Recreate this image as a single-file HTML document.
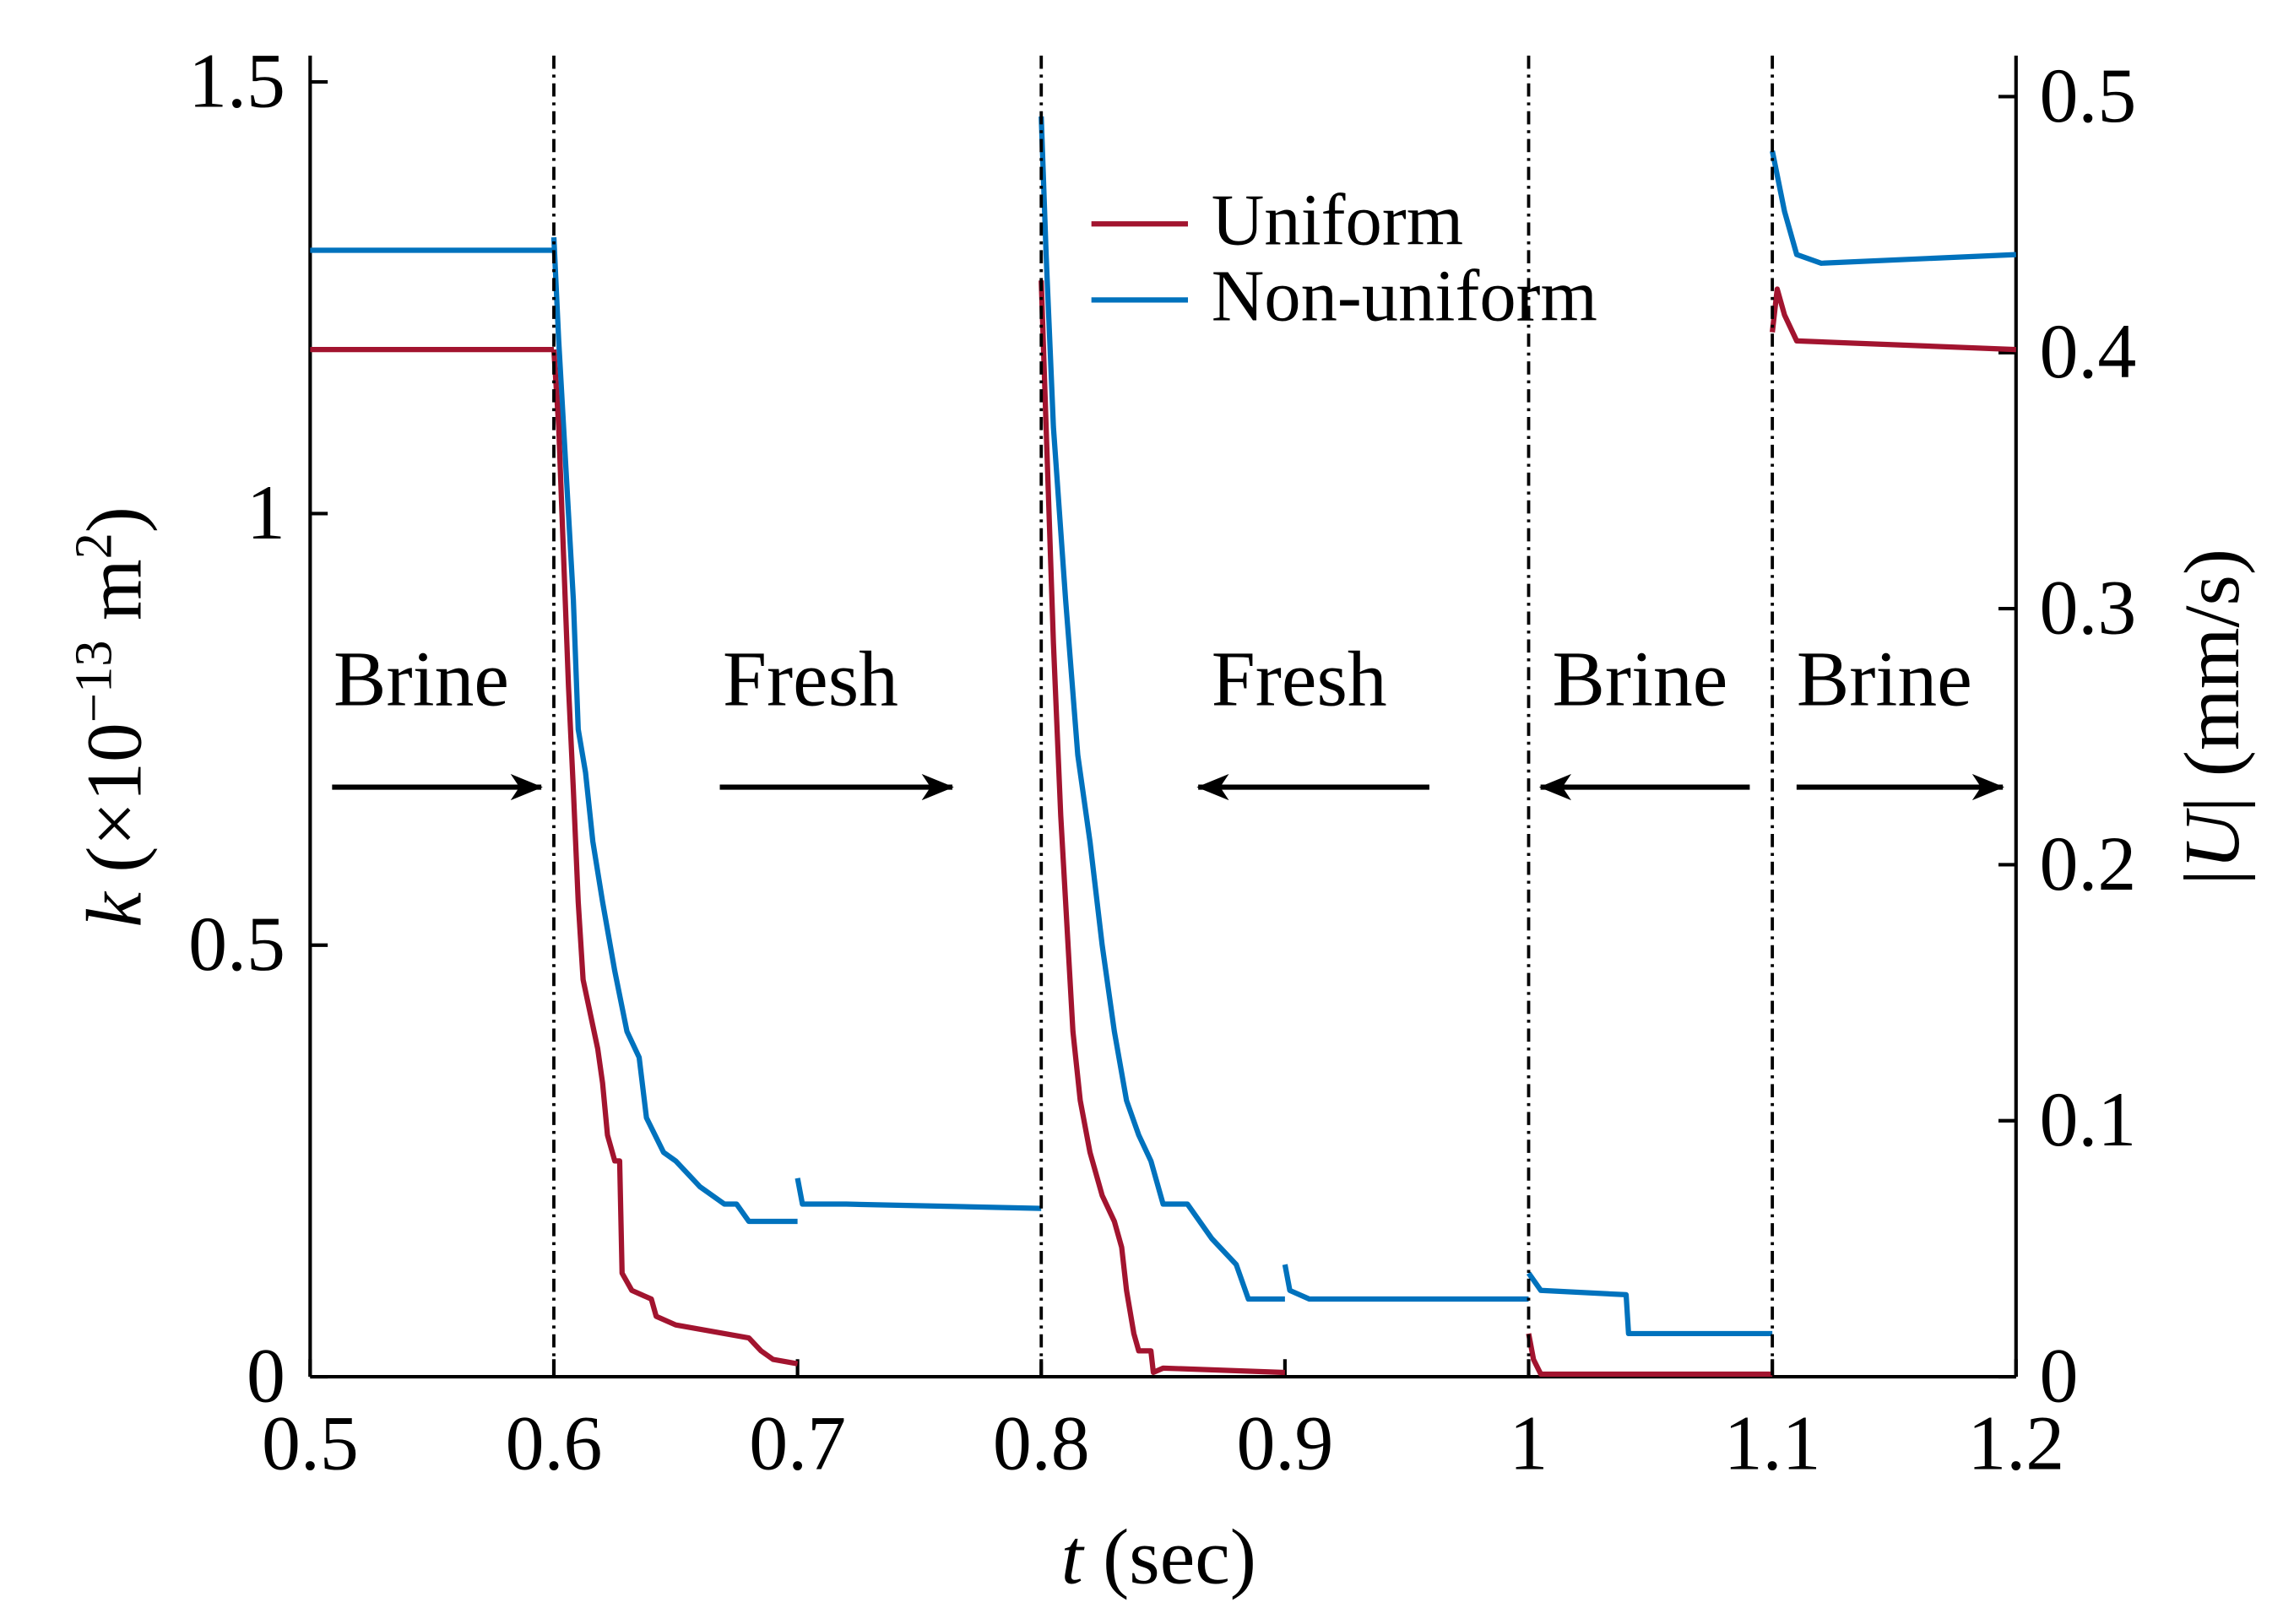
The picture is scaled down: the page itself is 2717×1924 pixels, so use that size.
<!DOCTYPE html>
<html><head><meta charset="utf-8"><style>
html,body{margin:0;padding:0;background:#fff;}
body{position:relative;width:2717px;height:1924px;overflow:hidden;}
svg{display:block;font-family:"Liberation Serif",serif;}
</style></head><body>
<svg id="chart" width="2717" height="1924" viewBox="0 0 1568 1110" preserveAspectRatio="none" xmlns="http://www.w3.org/2000/svg">
<g id="axes"></g>
<g id="marks"></g>
<g id="ann"></g>
</svg>
<script>
const xTicks=[0.5,0.6,0.7,0.8,0.9,1,1.1,1.2];
const xTickLabels=["0.5","0.6","0.7","0.8","0.9","1","1.1","1.2"];
const yTicks=[0,0.5,1,1.5];
const yTickLabels=["0","0.5","1","1.5"];
const y2Ticks=[0,0.1,0.2,0.3,0.4,0.5];
const y2TickLabels=["0","0.1","0.2","0.3","0.4","0.5"];
const switchTimes=[0.6,0.8,1.0,1.1];
const uniformSegs=[
 [[0.5,1.19],[0.6,1.19]],
 [[0.600,1.19],[0.602,1.10],[0.604,0.95],[0.606,0.80],[0.608,0.68],[0.610,0.55],[0.612,0.46],[0.615,0.42],[0.618,0.38],[0.620,0.34],[0.622,0.28],[0.625,0.25],[0.627,0.25],[0.628,0.12],[0.632,0.10],[0.640,0.09],[0.642,0.07],[0.650,0.06],[0.660,0.055],[0.670,0.05],[0.680,0.045],[0.685,0.03],[0.690,0.02],[0.700,0.015]],
 [[0.800,1.27],[0.802,1.10],[0.805,0.85],[0.808,0.65],[0.810,0.55],[0.813,0.40],[0.816,0.32],[0.820,0.26],[0.825,0.21],[0.830,0.18],[0.833,0.15],[0.835,0.10],[0.838,0.05],[0.840,0.03],[0.845,0.03],[0.846,0.005],[0.85,0.01],[0.9,0.005]],
 [[1.0,0.05],[1.002,0.02],[1.005,0.003],[1.1,0.003]],
 [[1.1,1.21],[1.102,1.26],[1.105,1.23],[1.11,1.20],[1.2,1.19]]
];
const nonUniformSegs=[
 [[0.5,1.305],[0.6,1.305]],
 [[0.600,1.32],[0.602,1.20],[0.605,1.05],[0.608,0.90],[0.610,0.75],[0.613,0.70],[0.616,0.62],[0.620,0.55],[0.625,0.47],[0.630,0.40],[0.635,0.37],[0.638,0.30],[0.645,0.26],[0.650,0.25],[0.660,0.22],[0.670,0.20],[0.675,0.20],[0.680,0.18],[0.700,0.18]],
 [[0.700,0.23],[0.702,0.20],[0.72,0.20],[0.8,0.195]],
 [[0.800,1.46],[0.802,1.30],[0.805,1.10],[0.810,0.90],[0.815,0.72],[0.820,0.62],[0.825,0.50],[0.830,0.40],[0.835,0.32],[0.840,0.28],[0.845,0.25],[0.850,0.20],[0.860,0.20],[0.870,0.16],[0.880,0.13],[0.885,0.09],[0.9,0.09]],
 [[0.9,0.13],[0.902,0.10],[0.91,0.09],[1.0,0.09]],
 [[1.0,0.12],[1.005,0.10],[1.04,0.095],[1.041,0.05],[1.1,0.05]],
 [[1.1,1.42],[1.105,1.35],[1.11,1.30],[1.12,1.29],[1.2,1.30]]
];
const NS="http://www.w3.org/2000/svg";
const X0=212,X1=1378,Y0=941;
const xs=t=>X0+(t-0.5)/0.7*(X1-X0);
const ys=k=>Y0-k*590;
const ys2=u=>Y0-u*1750;
function mk(tag,attrs,parent,text){const e=document.createElementNS(NS,tag);for(const a in attrs)e.setAttribute(a,attrs[a]);if(text!==undefined)e.textContent=text;parent.appendChild(e);return e;}
const axes=document.getElementById('axes'),marks=document.getElementById('marks'),ann=document.getElementById('ann');
switchTimes.forEach(t=>{const l=mk('line',{x1:xs(t),x2:xs(t),y1:38,y2:Y0,stroke:'#000','stroke-width':2.2,'stroke-dasharray':'9,4,2,4'},ann);

});
let a=mk('line',{x1:X0,x2:X1,y1:Y0,y2:Y0,stroke:'#000','stroke-width':2.4},axes);


a=mk('line',{x1:X0,x2:X0,y1:38,y2:Y0,stroke:'#000','stroke-width':2.4},axes);


a=mk('line',{x1:X1,x2:X1,y1:38,y2:Y0,stroke:'#000','stroke-width':2.4},axes);


xTicks.forEach((t,i)=>{mk('line',{x1:xs(t),x2:xs(t),y1:Y0,y2:Y0-12,stroke:'#000','stroke-width':2.4},axes);
const tx=mk('text',{x:xs(t),y:1004,'font-size':53,'text-anchor':'middle'},axes,xTickLabels[i]);

});
yTicks.forEach((k,i)=>{mk('line',{x1:X0,x2:X0+12,y1:ys(k),y2:ys(k),stroke:'#000','stroke-width':2.4},axes);
const tx=mk('text',{x:195,y:ys(k)+17,'font-size':53,'text-anchor':'end'},axes,yTickLabels[i]);

});
y2Ticks.forEach((u,i)=>{mk('line',{x1:X1,x2:X1-12,y1:ys2(u),y2:ys2(u),stroke:'#000','stroke-width':2.4},axes);
const tx=mk('text',{x:1394,y:ys2(u)+17,'font-size':53,'text-anchor':'start'},axes,y2TickLabels[i]);

});
function draw(segs,color,name){segs.forEach(s=>{const p=mk('polyline',{points:s.map(d=>xs(d[0]).toFixed(2)+','+ys(d[1]).toFixed(2)).join(' '),fill:'none',stroke:color,'stroke-width':3.6,'stroke-linejoin':'round'},marks);

});}
draw(nonUniformSegs,'#0072BD','non-uniform-line');
draw(uniformSegs,'#A2142F','uniform-line');
</script>
<svg style="position:absolute;left:0;top:0" width="2717" height="1924" viewBox="0 0 1568 1110" preserveAspectRatio="none" xmlns="http://www.w3.org/2000/svg" font-family="Liberation Serif, serif">
<defs><marker id="ah" markerWidth="22" markerHeight="18" refX="21" refY="9" orient="auto" markerUnits="userSpaceOnUse"><path d="M0,0 L22,9 L0,18 L6,9 Z" fill="#000"/></marker></defs>
<g>
<line x1="746" x2="812" y1="153" y2="153" stroke="#A2142F" stroke-width="3.6"/>
<text x="828" y="167" font-size="50">Uniform</text>
<line x1="746" x2="812" y1="205" y2="205" stroke="#0072BD" stroke-width="3.6"/>
<text x="828" y="219" font-size="50">Non-uniform</text>
</g>
<g font-size="54">
<text x="228" y="482">Brine</text>
<text x="494" y="482">Fresh</text>
<text x="828" y="482">Fresh</text>
<text x="1061" y="482">Brine</text>
<text x="1228" y="482">Brine</text>
</g>
<g stroke="#000" stroke-width="3.5">
<line x1="227" y1="538" x2="370" y2="538" marker-end="url(#ah)"/>
<line x1="492" y1="538" x2="651" y2="538" marker-end="url(#ah)"/>
<line x1="977" y1="538" x2="819" y2="538" marker-end="url(#ah)"/>
<line x1="1196" y1="538" x2="1053" y2="538" marker-end="url(#ah)"/>
<line x1="1228" y1="538" x2="1369" y2="538" marker-end="url(#ah)"/>
</g>
<text x="792" y="1082" font-size="54" text-anchor="middle"><tspan font-style="italic">t</tspan> (sec)</text>
<text transform="translate(96,490) rotate(-90)" font-size="54" text-anchor="middle"><tspan font-style="italic">k</tspan> (×10<tspan font-size="36" dy="-20">−13</tspan><tspan dy="20"> m</tspan><tspan font-size="36" dy="-20">2</tspan><tspan dy="20">)</tspan></text>
<text transform="translate(1530,490) rotate(-90)" font-size="54" text-anchor="middle">|<tspan font-style="italic">U</tspan>| (mm/s)</text>
</svg>
</body></html>
